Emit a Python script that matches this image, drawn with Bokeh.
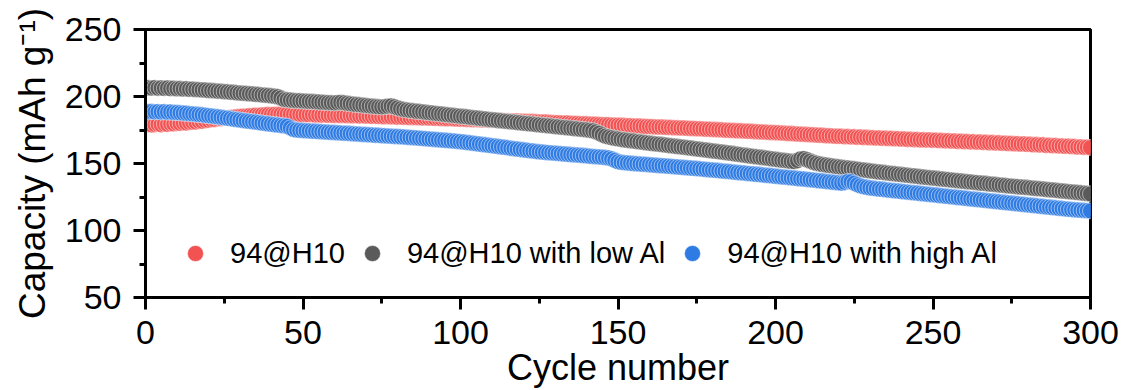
from bokeh.plotting import figure
from bokeh.models import Range1d, SingleIntervalTicker, Legend, LegendItem, ColumnDataSource
from bokeh.embed import file_html
from bokeh.resources import INLINE

cycles = list(range(1, 301))

cap_94H10 = [
    179.2, 178.8, 179.1, 179.4, 179.0, 179.5, 179.3, 179.8, 179.6, 180.1,
    180.0, 180.4, 180.3, 180.7, 180.9, 181.0, 181.5, 181.6, 182.1, 182.3,
    182.8, 182.9, 183.4, 183.5, 183.9, 184.0, 184.4, 184.5, 184.9, 185.0,
    185.3, 185.3, 185.6, 185.7, 186.0, 185.9, 186.2, 186.3, 186.5, 186.4,
    186.6, 186.5, 186.7, 186.6, 186.8, 186.6, 186.7, 186.5, 186.6, 186.4,
    186.5, 186.3, 186.5, 186.2, 186.3, 186.1, 186.3, 186.0, 186.1, 185.9,
    186.0, 185.8, 185.9, 185.7, 185.8, 185.6, 185.7, 185.5, 185.6, 185.4,
    185.4, 185.2, 185.3, 185.1, 185.1, 184.9, 185.0, 184.8, 184.8, 184.6,
    184.7, 184.5, 184.5, 184.3, 184.4, 184.2, 184.2, 184.0, 184.1, 183.9,
    183.9, 183.7, 183.8, 183.6, 183.6, 183.4, 183.5, 183.3, 183.2, 183.1,
    183.1, 182.9, 182.9, 182.7, 182.8, 182.6, 182.5, 182.5, 182.3, 182.3,
    182.2, 182.1, 182.1, 181.9, 181.9, 181.8, 181.7, 181.7, 181.5, 181.5,
    181.4, 181.3, 181.3, 181.1, 181.0, 180.9, 180.9, 180.7, 180.6, 180.5,
    180.5, 180.3, 180.2, 180.2, 180.0, 179.9, 179.9, 179.7, 179.6, 179.6,
    179.4, 179.3, 179.3, 179.1, 179.0, 178.9, 178.9, 178.7, 178.6, 178.5,
    178.5, 178.3, 178.2, 178.2, 178.0, 177.9, 177.9, 177.7, 177.6, 177.5,
    177.5, 177.3, 177.2, 177.2, 177.0, 176.9, 176.9, 176.7, 176.6, 176.5,
    176.5, 176.3, 176.2, 176.1, 176.0, 175.9, 175.8, 175.6, 175.6, 175.4,
    175.3, 175.2, 175.1, 174.9, 174.8, 174.7, 174.6, 174.4, 174.4, 174.2,
    174.1, 174.0, 173.9, 173.7, 173.6, 173.5, 173.4, 173.2, 173.1, 173.0,
    172.9, 172.7, 172.6, 172.4, 172.3, 172.2, 172.0, 171.9, 171.8, 171.6,
    171.5, 171.4, 171.2, 171.1, 171.0, 170.8, 170.7, 170.6, 170.4, 170.3,
    170.3, 170.0, 170.1, 169.8, 169.9, 169.6, 169.7, 169.4, 169.5, 169.2,
    169.3, 169.0, 169.1, 168.8, 168.9, 168.6, 168.7, 168.4, 168.5, 168.2,
    168.3, 168.0, 168.1, 167.8, 167.9, 167.6, 167.7, 167.5, 167.6, 167.3,
    167.4, 167.1, 167.2, 166.9, 167.0, 166.7, 166.8, 166.5, 166.6, 166.3,
    166.4, 166.1, 166.2, 165.9, 166.0, 165.7, 165.8, 165.5, 165.6, 165.3,
    165.4, 165.1, 165.2, 164.9, 165.0, 164.7, 164.8, 164.5, 164.6, 164.3,
    164.3, 164.0, 164.1, 163.8, 163.9, 163.5, 163.6, 163.3, 163.4, 163.1,
    163.1, 162.8, 162.9, 162.6, 162.7, 162.3, 162.4, 162.1, 162.2, 161.9,
]

cap_low_al = [
    206.5, 206.3, 206.6, 206.2, 206.4, 206.1, 206.3, 205.9, 206.1, 205.8,
    205.9, 205.6, 205.7, 205.4, 205.5, 205.2, 205.1, 204.9, 204.8, 204.5,
    204.4, 204.2, 204.0, 203.9, 203.6, 203.5, 203.2, 203.1, 202.8, 202.6,
    202.4, 202.3, 202.0, 201.9, 201.6, 201.5, 201.2, 201.0, 200.8, 200.5,
    200.2, 199.8, 198.9, 197.8, 197.5, 197.3, 197.1, 196.9, 196.8, 196.6,
    196.5, 196.3, 196.2, 196.0, 195.9, 195.7, 195.6, 195.4, 195.3, 195.2,
    195.4, 195.6, 195.3, 194.9, 194.6, 194.3, 194.0, 193.8, 193.5, 193.3,
    193.0, 192.8, 192.5, 192.3, 192.2, 192.4, 192.7, 192.9, 192.3, 191.5,
    190.8, 190.3, 189.9, 189.6, 189.3, 189.0, 188.8, 188.5, 188.2, 187.9,
    187.7, 187.4, 187.1, 186.9, 186.6, 186.3, 186.1, 185.8, 185.5, 185.3,
    185.0, 184.8, 184.5, 184.2, 184.0, 183.7, 183.4, 183.2, 182.9, 182.6,
    182.4, 182.1, 181.9, 181.6, 181.4, 181.1, 180.9, 180.6, 180.4, 180.1,
    179.9, 179.6, 179.4, 179.1, 178.9, 178.6, 178.4, 178.1, 177.9, 177.6,
    177.4, 177.1, 176.9, 176.6, 176.4, 176.1, 175.9, 175.6, 175.4, 175.1,
    174.8, 174.4, 173.6, 172.6, 171.4, 170.4, 169.8, 169.3, 168.8, 168.4,
    168.0, 167.6, 167.3, 167.0, 166.8, 166.4, 166.1, 165.8, 165.5, 165.2,
    164.9, 164.6, 164.4, 164.1, 163.8, 163.5, 163.2, 162.9, 162.6, 162.4,
    162.1, 161.8, 161.5, 161.2, 160.9, 160.6, 160.3, 160.0, 159.7, 159.4,
    159.1, 158.8, 158.5, 158.2, 157.9, 157.6, 157.2, 156.9, 156.6, 156.2,
    155.9, 155.6, 155.3, 155.0, 154.7, 154.4, 154.1, 153.8, 153.4, 153.1,
    152.8, 152.5, 152.2, 151.9, 151.6, 151.4, 152.2, 153.4, 153.6, 152.8,
    151.8, 150.9, 150.2, 149.7, 149.2, 148.9, 148.5, 148.2, 147.8, 147.5,
    147.2, 146.9, 146.6, 146.3, 146.0, 145.7, 145.4, 145.1, 144.8, 144.5,
    144.2, 143.9, 143.6, 143.4, 143.1, 142.8, 142.5, 142.3, 142.0, 141.7,
    141.5, 141.2, 140.9, 140.7, 140.4, 140.1, 139.9, 139.6, 139.4, 139.1,
    138.9, 138.6, 138.4, 138.1, 137.9, 137.6, 137.4, 137.1, 136.9, 136.6,
    136.4, 136.2, 135.9, 135.7, 135.4, 135.2, 135.0, 134.7, 134.5, 134.3,
    134.0, 133.8, 133.6, 133.3, 133.1, 132.9, 132.7, 132.4, 132.2, 132.0,
    131.8, 131.5, 131.3, 131.1, 130.9, 130.6, 130.4, 130.2, 130.0, 129.7,
    129.5, 129.3, 129.0, 128.8, 128.6, 128.3, 128.1, 127.8, 127.6, 127.3,
]

cap_high_al = [
    188.6, 188.8, 188.5, 188.7, 188.4, 188.6, 188.3, 188.4, 188.1, 188.0,
    187.8, 187.6, 187.5, 187.2, 187.0, 186.8, 186.5, 186.3, 186.0, 185.7,
    185.4, 185.1, 184.8, 184.5, 184.1, 183.8, 183.5, 183.1, 182.8, 182.4,
    182.1, 181.8, 181.5, 181.2, 180.9, 180.6, 180.2, 179.9, 179.6, 179.3,
    179.0, 178.7, 178.4, 178.1, 177.8, 176.6, 175.4, 175.0, 174.8, 174.6,
    174.4, 174.3, 174.1, 174.0, 173.8, 173.7, 173.5, 173.4, 173.2, 173.1,
    172.9, 172.8, 172.6, 172.5, 172.3, 172.2, 172.0, 171.9, 171.7, 171.6,
    171.4, 171.3, 171.1, 171.0, 170.8, 170.7, 170.5, 170.4, 170.2, 170.1,
    169.9, 169.8, 169.6, 169.4, 169.3, 169.1, 168.9, 168.7, 168.5, 168.3,
    168.1, 167.9, 167.7, 167.5, 167.3, 167.1, 166.9, 166.7, 166.5, 166.3,
    166.0, 165.7, 165.4, 165.1, 164.8, 164.5, 164.2, 163.9, 163.6, 163.3,
    163.0, 162.7, 162.4, 162.1, 161.8, 161.4, 161.1, 160.8, 160.5, 160.2,
    159.9, 159.6, 159.3, 159.0, 158.7, 158.5, 158.3, 158.1, 157.9, 157.7,
    157.5, 157.3, 157.1, 156.9, 156.7, 156.5, 156.3, 156.1, 155.9, 155.7,
    155.5, 155.3, 155.1, 154.9, 154.7, 154.5, 154.1, 153.4, 152.4, 151.4,
    150.9, 150.6, 150.4, 150.2, 150.0, 149.8, 149.6, 149.4, 149.3, 149.1,
    148.9, 148.7, 148.5, 148.3, 148.2, 148.0, 147.8, 147.6, 147.4, 147.2,
    147.0, 146.8, 146.6, 146.4, 146.2, 146.0, 145.8, 145.5, 145.3, 145.1,
    144.9, 144.7, 144.4, 144.2, 144.0, 143.8, 143.5, 143.3, 143.1, 142.9,
    142.6, 142.4, 142.2, 141.9, 141.7, 141.5, 141.2, 141.0, 140.8, 140.5,
    140.3, 140.0, 139.8, 139.6, 139.3, 139.1, 138.8, 138.6, 138.4, 138.1,
    137.9, 137.6, 137.4, 137.1, 136.9, 136.6, 136.4, 136.1, 135.9, 135.6,
    135.4, 135.9, 136.6, 136.4, 135.3, 134.2, 133.3, 132.7, 132.2, 131.8,
    131.5, 131.2, 130.9, 130.7, 130.4, 130.1, 129.9, 129.6, 129.4, 129.1,
    128.9, 128.6, 128.4, 128.1, 127.9, 127.6, 127.4, 127.1, 126.9, 126.6,
    126.4, 126.1, 125.9, 125.6, 125.4, 125.1, 124.9, 124.6, 124.4, 124.1,
    123.9, 123.6, 123.4, 123.1, 122.9, 122.6, 122.4, 122.1, 121.9, 121.6,
    121.4, 121.1, 120.9, 120.6, 120.4, 120.1, 119.9, 119.6, 119.4, 119.1,
    118.9, 118.6, 118.4, 118.1, 117.9, 117.6, 117.4, 117.1, 116.9, 116.6,
    116.4, 116.1, 115.9, 115.7, 115.5, 115.3, 115.1, 114.9, 114.8, 114.6,
]

series_names = ["94@H10", "94@H10 with low Al", "94@H10 with high Al"]
series_colors = ["#F25252", "#5A5A5A", "#2E7BE3"]
series_values = [cap_94H10, cap_low_al, cap_high_al]

FONT = "Liberation Sans"

p = figure(width=1123, height=390, x_range=Range1d(0, 300), y_range=Range1d(50, 250),
           output_backend="svg", toolbar_location=None,
           min_border_left=145, min_border_right=33, min_border_top=29, min_border_bottom=93)
p.background_fill_color = "white"
p.border_fill_color = "white"
p.outline_line_color = "black"
p.outline_line_width = 3
p.xgrid.visible = False
p.ygrid.visible = False

p.xaxis.ticker = SingleIntervalTicker(interval=50, num_minor_ticks=2)
p.yaxis.ticker = SingleIntervalTicker(interval=50, num_minor_ticks=2)

for ax in (p.xaxis[0], p.yaxis[0]):
    ax.axis_line_width = 3
    ax.axis_line_color = "black"
    ax.major_tick_line_width = 3
    ax.minor_tick_line_width = 3
    ax.major_tick_line_color = "black"
    ax.minor_tick_line_color = "black"
    ax.major_tick_out = 12
    ax.major_tick_in = 0
    ax.minor_tick_out = 6
    ax.minor_tick_in = 0
    ax.major_label_text_font = FONT
    ax.major_label_text_font_size = "34px"
    ax.major_label_text_color = "black"
    ax.axis_label_text_font = FONT
    ax.axis_label_text_font_style = "normal"
    ax.axis_label_text_color = "black"

p.xaxis.major_label_standoff = 11
p.yaxis.major_label_standoff = 12

p.yaxis.axis_label = "Capacity (mAh g\u207b\u00b9)"
p.yaxis.axis_label_text_font_size = "37px"
p.yaxis.axis_label_standoff = 9

p.xaxis.axis_label = "Cycle number"
p.xaxis.axis_label_text_font_size = "36px"
p.xaxis.axis_label_standoff = 0

items = []
for name, color, vals in zip(series_names, series_colors, series_values):
    src = ColumnDataSource(data=dict(cycle=cycles, cap=vals))
    r = p.scatter(x="cycle", y="cap", source=src, size=16, marker="circle",
                  fill_color=color, line_color="white", line_alpha=0.5, line_width=1)
    items.append(LegendItem(label=name, renderers=[r]))

legend = Legend(items=items, orientation="horizontal", location=(30, 24),
                glyph_width=40, glyph_height=40, label_standoff=15, spacing=7,
                padding=0, margin=0, border_line_alpha=0, background_fill_alpha=0,
                label_text_font=FONT, label_text_font_size="29px", label_text_color="black")
p.add_layout(legend, "center")

open("out.html", "w").write(file_html(p, INLINE))
